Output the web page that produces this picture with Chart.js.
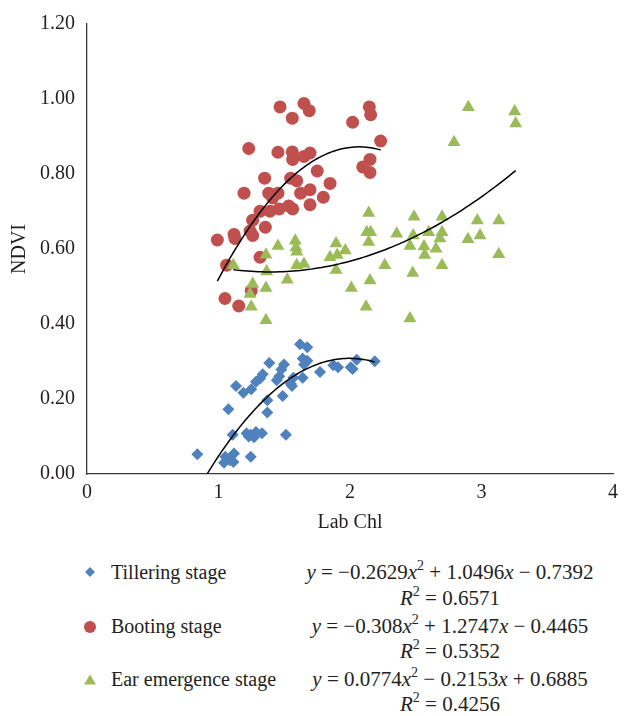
<!DOCTYPE html>
<html>
<head>
<meta charset="utf-8">
<title>NDVI vs Lab Chl</title>
<script src="https://cdn.jsdelivr.net/npm/chart.js"></script>
<style>
    body { margin: 0; background: #ffffff; }
    #wrap {
        position: relative;
        width: 629px;
        height: 716px;
        font-family: "Liberation Serif", "DejaVu Serif", serif;
        color: #231f20;
    }
    #chart { position: absolute; left: 0; top: 0; }
    .row {
        position: absolute;
        font-size: 20px;
        line-height: 26px;
        height: 26px;
        white-space: nowrap;
    }
    .name { left: 111px; }
    .eq { left: 450px; transform: translateX(-50%); text-align: center; font-size: 21px; }
    .eq i { font-style: italic; }
    .eq sup { font-size: 14px; line-height: 0; vertical-align: 9px; }
    .mk { position: absolute; }
    .mk-diamond {
        width: 7px; height: 7px; background: #4F81BD;
        transform: translate(-50%, -50%) rotate(45deg);
    }
    .mk-circle {
        width: 12px; height: 12px; border-radius: 50%; background: #C0504D;
        transform: translate(-50%, -50%);
    }
    .mk-triangle {
        width: 0; height: 0;
        border-left: 6px solid transparent;
        border-right: 6px solid transparent;
        border-bottom: 10px solid #9BBB59;
        transform: translate(-50%, -55%);
    }
</style>
</head>
<body>
<div id="wrap">
    <canvas id="chart" width="629" height="545"></canvas>

    <div class="mk mk-diamond" style="left:90px; top:572px;"></div>
    <div class="row name" style="top:559px;">Tillering stage</div>
    <div class="row eq" style="top:559px;"><i>y</i> = −0.2629<i>x</i><sup>2</sup> + 1.0496<i>x</i> − 0.7392</div>
    <div class="row eq" style="top:585px;"><i>R</i><sup>2</sup> = 0.6571</div>

    <div class="mk mk-circle" style="left:90px; top:627px;"></div>
    <div class="row name" style="top:613px;">Booting stage</div>
    <div class="row eq" style="top:613px;"><i>y</i> = −0.308<i>x</i><sup>2</sup> + 1.2747<i>x</i> − 0.4465</div>
    <div class="row eq" style="top:638px;"><i>R</i><sup>2</sup> = 0.5352</div>

    <div class="mk mk-triangle" style="left:90px; top:680px;"></div>
    <div class="row name" style="top:666px;">Ear emergence stage</div>
    <div class="row eq" style="top:666px;"><i>y</i> = 0.0774<i>x</i><sup>2</sup> − 0.2153<i>x</i> + 0.6885</div>
    <div class="row eq" style="top:691px;"><i>R</i><sup>2</sup> = 0.4256</div>
</div>

<script>
    // ---- measured points (Lab Chl, NDVI) ----
    const tilleringX = [1.62, 1.675, 1.386, 1.498, 1.478, 1.64, 1.675, 1.65, 2.051, 2.188,
        1.873, 1.909, 2.005, 2.02, 1.772, 1.336, 1.316, 1.285, 1.462, 1.443,
        1.569, 1.64, 1.549, 1.559, 1.133, 1.189, 1.249, 1.488, 1.371, 1.075,
        1.371, 1.108, 1.214, 1.245, 1.285, 1.331, 1.23, 1.27, 1.513, 0.839,
        1.052, 1.118, 1.087, 1.042, 1.113, 1.245];
    const tilleringY = [0.346, 0.338, 0.296, 0.292, 0.279, 0.308, 0.302, 0.292, 0.305, 0.301,
        0.29, 0.285, 0.285, 0.28, 0.272, 0.266, 0.255, 0.246, 0.261, 0.25,
        0.257, 0.257, 0.241, 0.235, 0.235, 0.217, 0.226, 0.208, 0.197, 0.173,
        0.164, 0.105, 0.109, 0.105, 0.112, 0.109, 0.1, 0.098, 0.105, 0.053,
        0.046, 0.055, 0.037, 0.03, 0.032, 0.046];

    const bootingX = [1.468, 1.65, 1.69, 1.561, 2.147, 2.157, 2.02, 2.233, 1.23, 1.452,
        1.561, 1.564, 1.65, 1.696, 2.152, 2.097, 2.152, 1.751, 1.351, 1.549,
        1.595, 1.848, 1.194, 1.382, 1.452, 1.412, 1.625, 1.696, 1.797, 1.696,
        1.316, 1.392, 1.462, 1.534, 1.564, 1.26, 1.356, 1.24, 1.26, 1.118,
        1.125, 0.991, 1.316, 1.062, 1.249, 1.049, 1.154];
    const bootingY = [0.979, 0.988, 0.969, 0.949, 0.979, 0.958, 0.938, 0.888, 0.868, 0.858,
        0.859, 0.839, 0.847, 0.856, 0.839, 0.819, 0.804, 0.808, 0.789, 0.789,
        0.782, 0.775, 0.749, 0.749, 0.749, 0.736, 0.749, 0.758, 0.738, 0.718,
        0.701, 0.701, 0.707, 0.715, 0.707, 0.677, 0.658, 0.648, 0.636, 0.639,
        0.628, 0.624, 0.578, 0.557, 0.489, 0.468, 0.448];

    const earX = [1.113, 1.24, 1.26, 1.249, 1.361, 1.366, 1.361, 1.361, 1.452, 1.523,
        1.584, 1.589, 1.595, 1.595, 1.65, 1.848, 1.894, 1.903, 1.964, 1.894,
        2.01, 2.122, 2.152, 2.142, 2.127, 2.157, 2.142, 2.264, 2.355, 2.481,
        2.456, 2.487, 2.563, 2.568, 2.477, 2.456, 2.598, 2.654, 2.7, 2.7,
        2.684, 2.7, 2.791, 2.9, 2.897, 2.968, 2.989, 3.131, 3.131, 3.252,
        3.26];
    const earY = [0.557, 0.48, 0.507, 0.446, 0.585, 0.54, 0.496, 0.41, 0.608, 0.518,
        0.622, 0.604, 0.593, 0.557, 0.56, 0.578, 0.615, 0.584, 0.596, 0.544,
        0.496, 0.446, 0.516, 0.696, 0.645, 0.645, 0.619, 0.557, 0.641, 0.636,
        0.608, 0.686, 0.607, 0.584, 0.536, 0.415, 0.645, 0.601, 0.686, 0.645,
        0.628, 0.557, 0.885, 0.978, 0.626, 0.676, 0.636, 0.676, 0.586, 0.967,
        0.935];

    // quadratic trend coefficients [a, b, c] for y = a*x^2 + b*x + c
    const tilleringFit = [-0.2629, 1.0496, -0.7392];
    const bootingFit = [-0.308, 1.2747, -0.4465];
    const earFit = [0.0774, -0.2153, 0.6885];

    const xTicks = [0, 1, 2, 3, 4];
    const yTicks = [0, 0.2, 0.4, 0.6, 0.8, 1.0, 1.2];

    const BLUE = "#4F81BD";
    const RED = "#C0504D";
    const GREEN = "#9BBB59";
    const FONT = "'Liberation Serif', 'DejaVu Serif', serif";

    function toPoints(xs, ys) {
        return xs.map((x, i) => ({ x: x, y: ys[i] }));
    }

    // trend curve over the x range of its series
    function fitCurve(xs, coef) {
        const lo = Math.min(...xs), hi = Math.max(...xs);
        const pts = [];
        for (let i = 0; i <= 80; i++) {
            const x = lo + (hi - lo) * i / 80;
            pts.push({ x: x, y: coef[0] * x * x + coef[1] * x + coef[2] });
        }
        return pts;
    }

    function trend(xs, coef) {
        return {
            data: fitCurve(xs, coef),
            showLine: true,
            borderColor: "#000000",
            borderWidth: 1.5,
            pointRadius: 0,
            fill: false,
            order: 0
        };
    }

    new Chart(document.getElementById("chart"), {
        type: "scatter",
        data: {
            datasets: [
                {
                    label: "Tillering stage",
                    data: toPoints(tilleringX, tilleringY),
                    pointStyle: "rectRot",
                    pointRadius: 6,
                    backgroundColor: BLUE,
                    borderColor: BLUE,
                    borderWidth: 0,
                    order: 3
                },
                {
                    label: "Booting stage",
                    data: toPoints(bootingX, bootingY),
                    pointStyle: "circle",
                    pointRadius: 6.5,
                    backgroundColor: RED,
                    borderColor: RED,
                    borderWidth: 0,
                    order: 2
                },
                {
                    label: "Ear emergence stage",
                    data: toPoints(earX, earY),
                    pointStyle: "triangle",
                    pointRadius: 7.5,
                    backgroundColor: GREEN,
                    borderColor: GREEN,
                    borderWidth: 0,
                    order: 1
                },
                trend(tilleringX, tilleringFit),
                trend(bootingX, bootingFit),
                trend(earX, earFit)
            ]
        },
        options: {
            responsive: false,
            animation: false,
            devicePixelRatio: 1,
            layout: { padding: { left: 0, right: 16, top: 19, bottom: 0 } },
            plugins: {
                legend: { display: false },
                tooltip: { enabled: false }
            },
            scales: {
                x: {
                    type: "linear",
                    min: 0,
                    max: 4,
                    afterBuildTicks: (s) => { s.ticks = xTicks.map(v => ({ value: v })); },
                    afterFit: (s) => { s.height = 71; },
                    grid: { display: false, drawTicks: false },
                    border: { display: true, color: "#3a3a3a", width: 1.3 },
                    ticks: {
                        padding: 7,
                        color: "#231f20",
                        font: { family: FONT, size: 20 }
                    },
                    title: {
                        display: true,
                        text: "Lab Chl",
                        color: "#231f20",
                        font: { family: FONT, size: 20 },
                        padding: { top: 0, bottom: 10 }
                    }
                },
                y: {
                    type: "linear",
                    min: 0,
                    max: 1.2,
                    afterBuildTicks: (s) => { s.ticks = yTicks.map(v => ({ value: v })); },
                    afterFit: (s) => { s.width = 87; },
                    grid: { display: false, drawTicks: false },
                    border: { display: true, color: "#3a3a3a", width: 1.3 },
                    ticks: {
                        padding: 12,
                        color: "#231f20",
                        font: { family: FONT, size: 20 },
                        callback: (v) => Number(v).toFixed(2)
                    },
                    title: {
                        display: true,
                        text: "NDVI",
                        color: "#231f20",
                        font: { family: FONT, size: 20 },
                        padding: { top: 8, bottom: 0 }
                    }
                }
            }
        }
    });
</script>
</body>
</html>
